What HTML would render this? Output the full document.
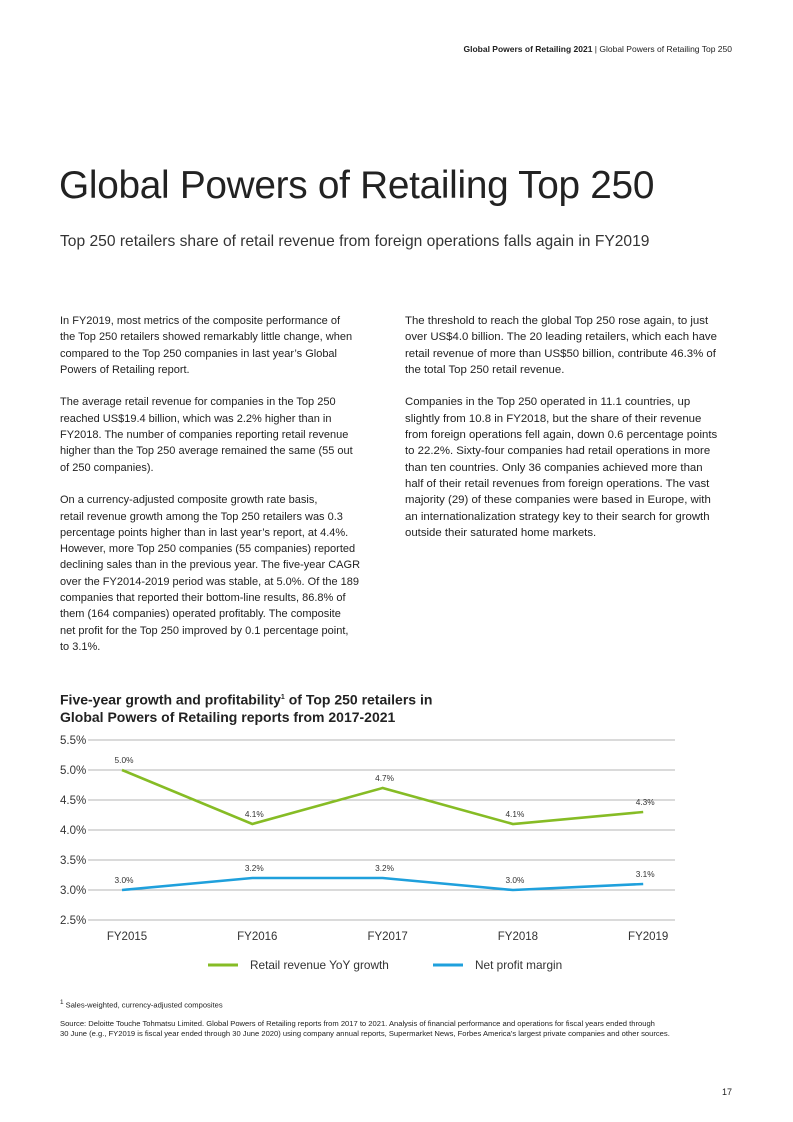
<!DOCTYPE html>
<html><head><meta charset="utf-8"><style>
body{margin:0;width:793px;height:1122px;background:#fff;font-family:"Liberation Sans",sans-serif;color:#222;position:relative;overflow:hidden}
.hdr{position:absolute;right:61px;top:44px;font-size:8.5px;color:#222}
h1{position:absolute;left:59px;top:164px;margin:0;font-weight:300;font-size:38.8px;color:#222;letter-spacing:-0.3px;white-space:nowrap}
.sub{position:absolute;left:60px;top:233px;font-size:15.6px;color:#333;white-space:nowrap}
.col{position:absolute;top:313px;font-size:11px;line-height:16.3px;color:#222;white-space:nowrap}
.col p{margin:0 0 16.3px 0}
.ct{position:absolute;left:60px;top:689px;font-size:14px;font-weight:bold;line-height:17px;color:#222;white-space:nowrap}
.fn{position:absolute;left:60px;font-size:7.6px;color:#222;line-height:10px;white-space:nowrap}
.pg{position:absolute;right:61px;top:1087px;font-size:9px}
</style></head><body>
<div class="hdr"><b>Global Powers of Retailing 2021</b> | Global Powers of Retailing Top 250</div>
<h1>Global Powers of Retailing Top 250</h1>
<div class="sub">Top 250 retailers share of retail revenue from foreign operations falls again in FY2019</div>
<div class="col" style="left:60px">
<p>In FY2019, most metrics of the composite performance of<br>the Top 250 retailers showed remarkably little change, when<br>compared to the Top 250 companies in last year’s Global<br>Powers of Retailing report.</p>
<p>The average retail revenue for companies in the Top 250<br>reached US$19.4 billion, which was 2.2% higher than in<br>FY2018. The number of companies reporting retail revenue<br>higher than the Top 250 average remained the same (55 out<br>of 250 companies).</p>
<p>On a currency-adjusted composite growth rate basis,<br>retail revenue growth among the Top 250 retailers was 0.3<br>percentage points higher than in last year’s report, at 4.4%.<br>However, more Top 250 companies (55 companies) reported<br>declining sales than in the previous year. The five-year CAGR<br>over the FY2014-2019 period was stable, at 5.0%. Of the 189<br>companies that reported their bottom-line results, 86.8% of<br>them (164 companies) operated profitably. The composite<br>net profit for the Top 250 improved by 0.1 percentage point,<br>to 3.1%.</p>
</div>
<div class="col" style="left:405px;font-size:11.4px">
<p>The threshold to reach the global Top 250 rose again, to just<br>over US$4.0 billion. The 20 leading retailers, which each have<br>retail revenue of more than US$50 billion, contribute 46.3% of<br>the total Top 250 retail revenue.</p>
<p>Companies in the Top 250 operated in 11.1 countries, up<br>slightly from 10.8 in FY2018, but the share of their revenue<br>from foreign operations fell again, down 0.6 percentage points<br>to 22.2%. Sixty-four companies had retail operations in more<br>than ten countries. Only 36 companies achieved more than<br>half of their retail revenues from foreign operations. The vast<br>majority (29) of these companies were based in Europe, with<br>an internationalization strategy key to their search for growth<br>outside their saturated home markets.</p>
</div>
<div class="ct">Five-year growth and profitability<sup style="font-size:7px">1</sup> of Top 250 retailers in<br>Global Powers of Retailing reports from 2017-2021</div>
<svg id="chart" style="position:absolute;left:0;top:0" width="793" height="1122"></svg>
<div class="fn" style="top:998px"><sup>1</sup> Sales-weighted, currency-adjusted composites</div>
<div class="fn" style="top:1019px">Source: Deloitte Touche Tohmatsu Limited. Global Powers of Retailing reports from 2017 to 2021. Analysis of financial performance and operations for fiscal years ended through<br>30 June (e.g., FY2019 is fiscal year ended through 30 June 2020) using company annual reports, Supermarket News, Forbes America’s largest private companies and other sources.</div>
<div class="pg">17</div>
<script>
const categories=["FY2015","FY2016","FY2017","FY2018","FY2019"];
const growth=[5.0,4.1,4.7,4.1,4.3];
const margin=[3.0,3.2,3.2,3.0,3.1];
const ticks=[2.5,3.0,3.5,4.0,4.5,5.0,5.5];
const svg=document.getElementById('chart');
const NS='http://www.w3.org/2000/svg';
const y=v=>920-(v-2.5)*60;
const x=i=>122+i*130.3;
function mk(t,a,txt){const e=document.createElementNS(NS,t);for(const k in a)e.setAttribute(k,a[k]);if(txt!=null)e.textContent=txt;svg.appendChild(e);return e;}
ticks.forEach(t=>{
 const l=mk('line',{x1:88,x2:675,y1:y(t),y2:y(t),stroke:'#b5b5b5','stroke-width':1});
 
 
 const tx=mk('text',{x:60,y:y(t)+4,'font-size':11.5,fill:'#333','font-family':'Liberation Sans'},t.toFixed(1)+'%');
 
 
});
categories.forEach((c,i)=>{
 const tx=mk('text',{x:x(i)+5,y:940,'font-size':11.5,fill:'#333','text-anchor':'middle','font-family':'Liberation Sans'},c);
 
 
});
function series(vals,color,name){
 const p=mk('polyline',{points:vals.map((v,i)=>x(i)+','+y(v)).join(' '),fill:'none',stroke:color,'stroke-width':2.6});
 
 
 vals.forEach((v,i)=>{
  const t=mk('text',{x:x(i)+2,y:y(v)-7,'font-size':8.3,fill:'#333','text-anchor':'middle','font-family':'Liberation Sans'},v.toFixed(1)+'%');
  
  
 });
}
series(growth,'#86bc25','growth');
series(margin,'#1fa0dc','margin');
function leg(x0,color,label,name){
 const l=mk('line',{x1:x0,x2:x0+30,y1:965,y2:965,stroke:color,'stroke-width':3});
 
 
 const t=mk('text',{x:x0+42,y:969,'font-size':11.8,fill:'#333','font-family':'Liberation Sans'},label);
 
 
}
leg(208,'#86bc25','Retail revenue YoY growth','growth');
leg(433,'#1fa0dc','Net profit margin','margin');
</script>
</body></html>
